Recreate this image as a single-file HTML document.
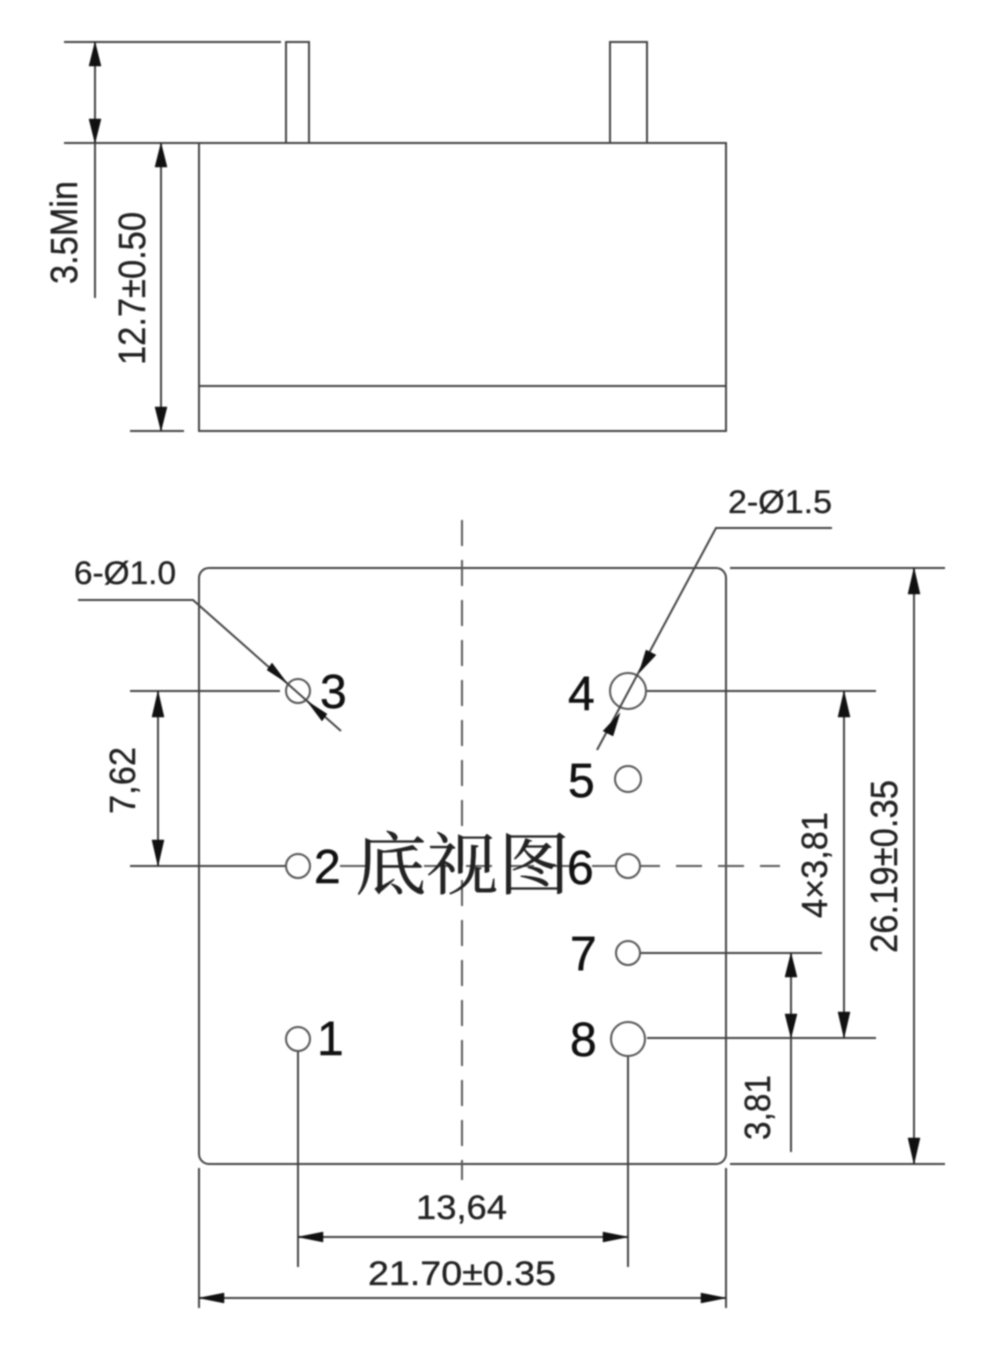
<!DOCTYPE html>
<html><head><meta charset="utf-8"><style>
html,body{margin:0;padding:0;background:#fff;width:1000px;height:1351px;overflow:hidden}
svg{display:block;filter:blur(.7px)}
.l{stroke:#444;stroke-width:2;fill:none}
.c{stroke:#555;stroke-width:2;fill:#fff}
.d{stroke:#5a5a5a;stroke-width:2;fill:none;stroke-dasharray:26 14}
.a{fill:#111;stroke:#111;stroke-width:.5}
text{font-family:"Liberation Sans",sans-serif;fill:#222;stroke:#222;stroke-width:.35}
.n{font-size:48px;fill:#111;stroke:#111;stroke-width:.5}
.s{font-size:32px}
</style></head><body>
<svg width="1000" height="1351" viewBox="0 0 1000 1351" xmlns="http://www.w3.org/2000/svg">
<!-- top view -->
<path class="l" d="M64 42H281M64 143H726M286 143V42H309V143M610 143V42H647V143M199 143H726V431H199ZM199 386H726M130 431H184"/>
<path class="l" d="M95 42V298M161 143V431"/>
<path class="a" d="M95 42l-6 24h12zM95 143l-6-24h12zM161 143l-6 24h12zM161 431l-6-24h12z"/>
<text class="s" transform="translate(77,284) rotate(-90)" textLength="103" lengthAdjust="spacingAndGlyphs" style="font-size:38px">3.5Min</text>
<text class="s" transform="translate(145,365) rotate(-90)" textLength="153" lengthAdjust="spacingAndGlyphs" style="font-size:38px">12.7±0.50</text>
<!-- bottom view -->
<rect class="l" x="199" y="568" width="527" height="596" rx="10" ry="10"/>
<path class="d" d="M462 520V1180"/>
<path class="d" d="M340 866H780" style="stroke-dasharray:26 16"/>
<path class="l" d="M730 568H945M730 1164H945M199 1168V1308M726 1168V1308"/>
<path class="l" d="M130 691H280M130 866H290M647 691H876M647 1038H876M640 953H822"/>
<path class="l" d="M914 568V1164M844 691V1038M791 953V1152M158 691V866"/>
<path class="l" d="M298 1051V1267M628 1057V1267M298 1237H628M199 1298H726"/>
<path class="a" d="M914 568l-6 26h12zM914 1164l-6-26h12zM844 691l-6 26h12zM844 1038l-6-26h12zM791 953l-6 24h12zM791 1038l-6-24h12zM158 691l-6 26h12zM158 866l-6-26h12z"/>
<path class="a" d="M298 1237l25-5v10zM628 1237l-25-5v10zM199 1298l25-5v10zM726 1298l-25-5v10z"/>
<circle class="c" cx="298" cy="691" r="12"/>
<circle class="c" cx="298" cy="866" r="12"/>
<circle class="c" cx="298" cy="1039" r="12"/>
<circle class="c" cx="628" cy="691" r="18"/>
<circle class="c" cx="628" cy="779" r="13"/>
<circle class="c" cx="628" cy="866" r="12"/>
<circle class="c" cx="628" cy="953" r="12"/>
<circle class="c" cx="628" cy="1039" r="17"/>
<path class="l" d="M78 600H193L341 731M832 528H716L597 750"/>
<path class="a" d="M287 683l-20-13 5-7zM307 701l20 13-5 7zM639 673l7-23 10 5zM620 713l-7 23-10-5z"/>
<text class="n" x="320" y="708">3</text>
<text class="n" x="314" y="883">2</text>
<text class="n" x="317" y="1055">1</text>
<text class="n" x="568" y="710">4</text>
<text class="n" x="568" y="797">5</text>
<text class="n" x="567" y="884">6</text>
<text class="n" x="570" y="970">7</text>
<text class="n" x="570" y="1056">8</text>
<text x="355" y="889" textLength="215" lengthAdjust="spacingAndGlyphs" style="font-family:'Liberation Serif','Noto Serif CJK SC',serif;font-size:68px;fill:#222">底视图</text>
<text class="s" x="74" y="584" textLength="102" lengthAdjust="spacingAndGlyphs">6-Ø1.0</text>
<text class="s" x="728" y="513" textLength="104" lengthAdjust="spacingAndGlyphs">2-Ø1.5</text>
<text class="s" transform="translate(135,814) rotate(-90)" textLength="67" lengthAdjust="spacingAndGlyphs" style="font-size:36px">7,62</text>
<text class="s" transform="translate(827,918) rotate(-90)" textLength="106" lengthAdjust="spacingAndGlyphs" style="font-size:36px">4×3,81</text>
<text class="s" transform="translate(897,953) rotate(-90)" textLength="173" lengthAdjust="spacingAndGlyphs" style="font-size:38px">26.19±0.35</text>
<text class="s" transform="translate(770,1140) rotate(-90)" textLength="65" lengthAdjust="spacingAndGlyphs" style="font-size:36px">3,81</text>
<text class="s" x="416" y="1219" textLength="91" lengthAdjust="spacingAndGlyphs" style="font-size:34px">13,64</text>
<text class="s" x="368" y="1285" textLength="188" lengthAdjust="spacingAndGlyphs" style="font-size:34px">21.70±0.35</text>
</svg>
</body></html>
